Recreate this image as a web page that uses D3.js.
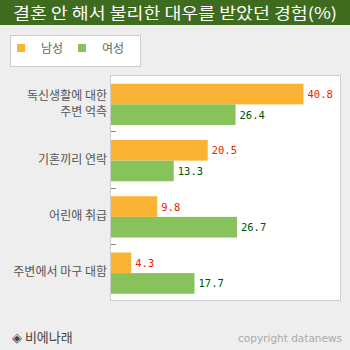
<!DOCTYPE html>
<html><head><meta charset="utf-8">
<script src="https://cdn.jsdelivr.net/npm/d3@7"></script>
<style>html,body{margin:0;padding:0;background:#eeeeee;}svg{display:block;}</style>
</head><body>
<svg id="c" width="350" height="350"></svg>
<script>
const categories = [["독신생활에 대한","주변 억측"],["기혼끼리 연락"],["어린애 취급"],["주변에서 마구 대함"]];
const seriesNames = ["남성","여성"];
const male = [40.8, 20.5, 9.8, 4.3];
const female = [26.4, 13.3, 26.7, 17.7];
const colors = ["#fbb336","#87c25a"];
const labelColors = ["#ee2200","#005500"];

const svg = d3.select("#c");
svg.append("rect").attr("width",350).attr("height",350).attr("fill","#eeeeee");
svg.append("rect").attr("width",350).attr("height",25).attr("fill","#3e6b1e");
svg.append("text").attr("x",175).attr("y",18.5).attr("text-anchor","middle")
  .attr("fill","#fff").attr("font-family","'Noto Sans CJK KR'").attr("font-size",16)
  .attr("textLength",324).attr("lengthAdjust","spacingAndGlyphs")
  .text("결혼 안 해서 불리한 대우를 받았던 경험(%)");

// legend
svg.append("rect").attr("x",10.5).attr("y",35.5).attr("width",130).attr("height",31)
  .attr("fill","#fff").attr("stroke","#cccccc");
const lg = svg.selectAll("g.lg").data(seriesNames).enter().append("g")
  .attr("transform",(d,i)=>`translate(${17+i*61},44)`);
lg.append("rect").attr("width",8).attr("height",8).attr("fill",(d,i)=>colors[i]);
lg.append("text").attr("x",24).attr("y",8.5).attr("fill","#666").attr("font-size",12)
  .attr("font-family","'Noto Sans CJK KR'").text(d=>d);

// plot
const pL=110.5, pT=75.5, pR=340.5, pB=300.5;
svg.append("rect").attr("x",pL).attr("y",pT).attr("width",pR-pL).attr("height",pB-pT)
  .attr("fill","#fff").attr("stroke","#cccccc");

const y = d3.scaleBand().domain(d3.range(categories.length)).range([75,300]);
const x = d3.scaleLinear().domain([0,48.75]).range([111,341]);
const sub = d3.scaleBand().domain([0,1]).range([8.75,50]);

const data = categories.map((c,i)=>({c, v:[male[i],female[i]], i}));
const g = svg.selectAll("g.grp").data(data).enter().append("g")
  .attr("transform",d=>`translate(0,${y(d.i)})`);
g.selectAll("rect").data(d=>d.v).enter().append("rect")
  .attr("x",x(0)).attr("y",(d,j)=>sub(j)).attr("height",sub.bandwidth())
  .attr("width",d=>x(d)-x(0)).attr("fill",(d,j)=>colors[j]);
g.selectAll("text.val").data(d=>d.v).enter().append("text").attr("class","val")
  .attr("x",d=>x(d)+4).attr("y",(d,j)=>sub(j)+sub.bandwidth()/2+4)
  .attr("fill",(d,j)=>labelColors[j]).attr("font-family","'DejaVu Sans Mono'")
  .attr("font-size",10.5).text(d=>d.toFixed(1));
// category labels
g.each(function(d){
  const n=d.c.length;
  d3.select(this).selectAll("text.cat").data(d.c).enter().append("text")
    .attr("x",107).attr("text-anchor","end")
    .attr("y",(t,k)=>y.bandwidth()/2+4.5+ (k-(n-1)/2)*16)
    .attr("fill","#555").attr("font-size",12).attr("font-family","'Noto Sans CJK KR'")
    .text(t=>t);
});
// tick marks
svg.selectAll("line.tk").data(d3.range(1,categories.length)).enter().append("line")
  .attr("x1",111).attr("x2",116).attr("y1",d=>Math.round(y(d))+0.5).attr("y2",d=>Math.round(y(d))+0.5)
  .attr("stroke","#888");

svg.append("text").attr("x",12).attr("y",342).attr("fill","#444").attr("font-size",13)
  .attr("font-family","'Noto Sans CJK KR'").text("◈ 비에나래");
svg.append("text").attr("x",342).attr("y",342).attr("text-anchor","end").attr("fill","#aaa")
  .attr("font-size",10.5).attr("font-family","'DejaVu Sans'").text("copyright datanews");
</script>
</body></html>
